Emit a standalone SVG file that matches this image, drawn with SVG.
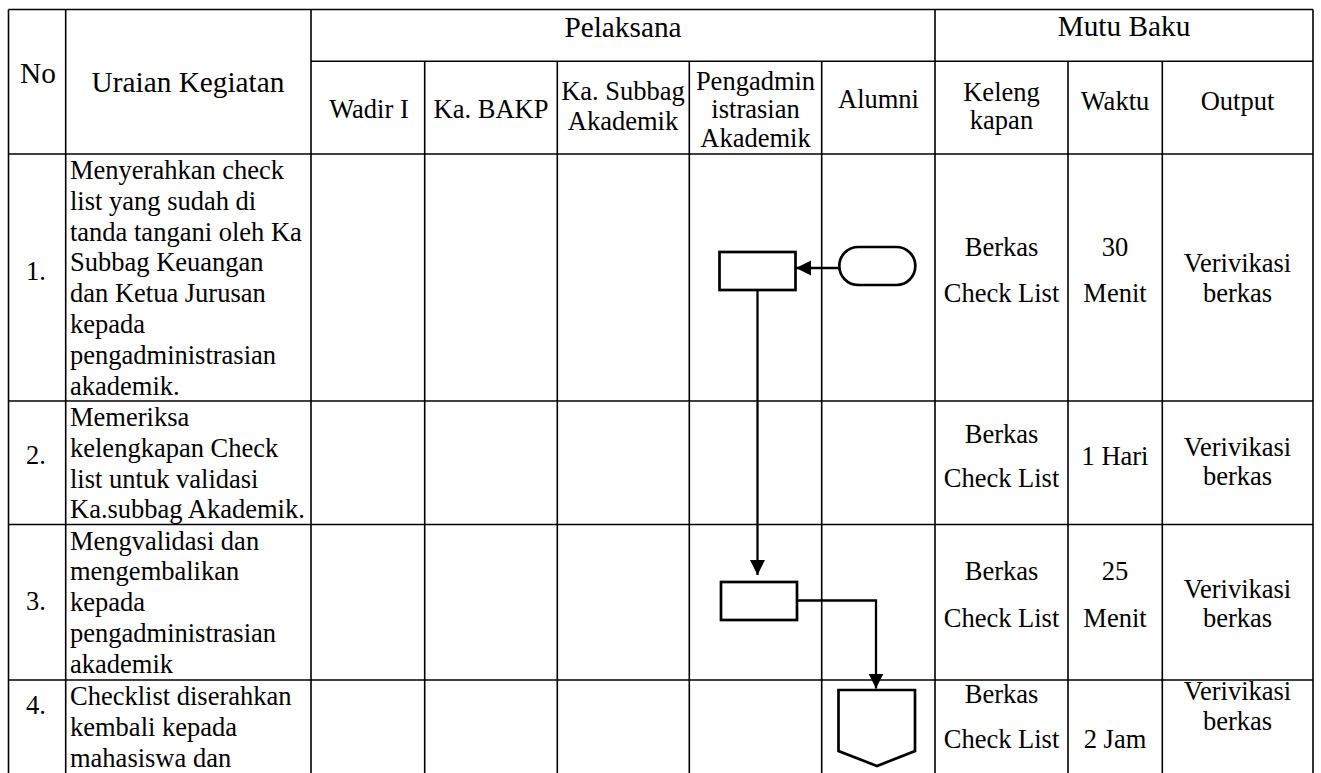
<svg xmlns="http://www.w3.org/2000/svg" width="1321" height="773" viewBox="0 0 1321 773">
<style>
text{font-family:"Liberation Serif","Tinos","Noto Serif","Times New Roman","Times","Nimbus Roman","FreeSerif","DejaVu Serif",serif;fill:#000}
.h{font-size:29.3px}
.t{font-size:26.5px}
.c{text-anchor:middle}
.grid line{stroke:#000;stroke-width:1.6}
.shape{fill:#fff;stroke:#000;stroke-width:2.7}
.conn{fill:none;stroke:#000;stroke-width:2.3}
</style>
<defs>
<marker id="arr" markerUnits="userSpaceOnUse" markerWidth="16" markerHeight="16" viewBox="0 0 16 16" refX="15" refY="8" orient="auto">
<path d="M0,0.5 L15,8 L0,15.5 z" fill="#000"/>
</marker>
</defs>
<rect width="1321" height="773" fill="#fff"/>
<g id="table" class="grid">
<line x1="8.5" y1="9.5" x2="1313" y2="9.5"/>
<line x1="311" y1="61.3" x2="1313" y2="61.3"/>
<line x1="8.5" y1="154" x2="1313" y2="154"/>
<line x1="8.5" y1="401" x2="1313" y2="401"/>
<line x1="8.5" y1="524.5" x2="1313" y2="524.5"/>
<line x1="8.5" y1="680" x2="1313" y2="680"/>
<line x1="8.5" y1="9.5" x2="8.5" y2="773"/>
<line x1="65.7" y1="9.5" x2="65.7" y2="773"/>
<line x1="311" y1="9.5" x2="311" y2="773"/>
<line x1="424.7" y1="61.3" x2="424.7" y2="773"/>
<line x1="557.3" y1="61.3" x2="557.3" y2="773"/>
<line x1="689.3" y1="61.3" x2="689.3" y2="773"/>
<line x1="821.7" y1="61.3" x2="821.7" y2="773"/>
<line x1="935" y1="9.5" x2="935" y2="773"/>
<line x1="1068" y1="61.3" x2="1068" y2="773"/>
<line x1="1162.3" y1="61.3" x2="1162.3" y2="773"/>
<line x1="1313" y1="9.5" x2="1313" y2="773"/>
</g>
<g id="header">
<text class="h c" x="38" y="83">No</text>
<text class="h c" x="188" y="92">Uraian Kegiatan</text>
<text class="h c" x="623" y="36.5">Pelaksana</text>
<text class="h c" x="1124" y="35.5">Mutu Baku</text>
<text class="t c" x="369" y="118.3">Wadir I</text>
<text class="t c" x="491" y="118.3">Ka. BAKP</text>
<text class="t c" x="623" y="100">Ka. Subbag</text>
<text class="t c" x="623" y="130">Akademik</text>
<text class="t c" x="755.5" y="89.5">Pengadmin</text>
<text class="t c" x="755.5" y="118.3">istrasian</text>
<text class="t c" x="755.5" y="147">Akademik</text>
<text class="t c" x="878.5" y="108.3">Alumni</text>
<text class="t c" x="1001.5" y="101">Keleng</text>
<text class="t c" x="1001.5" y="129">kapan</text>
<text class="t c" x="1115" y="110">Waktu</text>
<text class="t c" x="1237.5" y="110">Output</text>
</g>
<g id="row1">
<text class="t c" x="36" y="280">1.</text>
<text class="t" x="70" y="179">Menyerahkan check</text>
<text class="t" x="70" y="209.8">list yang sudah di</text>
<text class="t" x="70" y="240.6">tanda tangani oleh Ka</text>
<text class="t" x="70" y="271.4">Subbag Keuangan</text>
<text class="t" x="70" y="302.2">dan Ketua Jurusan</text>
<text class="t" x="70" y="333">kepada</text>
<text class="t" x="70" y="363.8">pengadministrasian</text>
<text class="t" x="70" y="394.6">akademik.</text>
<text class="t c" x="1001.5" y="256">Berkas</text>
<text class="t c" x="1001.5" y="302">Check List</text>
<text class="t c" x="1115" y="256">30</text>
<text class="t c" x="1115" y="302">Menit</text>
<text class="t c" x="1237.5" y="272">Verivikasi</text>
<text class="t c" x="1237.5" y="302">berkas</text>
</g>
<g id="row2">
<text class="t c" x="36" y="464">2.</text>
<text class="t" x="70" y="426">Memeriksa</text>
<text class="t" x="70" y="456.8">kelengkapan Check</text>
<text class="t" x="70" y="487.6">list untuk validasi</text>
<text class="t" x="70" y="518.4">Ka.subbag Akademik.</text>
<text class="t c" x="1001.5" y="443">Berkas</text>
<text class="t c" x="1001.5" y="487">Check List</text>
<text class="t c" x="1115" y="465">1 Hari</text>
<text class="t c" x="1237.5" y="456">Verivikasi</text>
<text class="t c" x="1237.5" y="485">berkas</text>
</g>
<g id="row3">
<text class="t c" x="36" y="610">3.</text>
<text class="t" x="70" y="549.5">Mengvalidasi dan</text>
<text class="t" x="70" y="580.3">mengembalikan</text>
<text class="t" x="70" y="611.1">kepada</text>
<text class="t" x="70" y="641.9">pengadministrasian</text>
<text class="t" x="70" y="672.7">akademik</text>
<text class="t c" x="1001.5" y="580">Berkas</text>
<text class="t c" x="1001.5" y="626.7">Check List</text>
<text class="t c" x="1115" y="580">25</text>
<text class="t c" x="1115" y="626.7">Menit</text>
<text class="t c" x="1237.5" y="598">Verivikasi</text>
<text class="t c" x="1237.5" y="626.7">berkas</text>
</g>
<g id="row4">
<text class="t c" x="36" y="714">4.</text>
<text class="t" x="70" y="705">Checklist diserahkan</text>
<text class="t" x="70" y="735.8">kembali kepada</text>
<text class="t" x="70" y="766.6">mahasiswa dan</text>
<text class="t c" x="1001.5" y="703">Berkas</text>
<text class="t c" x="1001.5" y="748">Check List</text>
<text class="t c" x="1115" y="748">2 Jam</text>
<text class="t c" x="1237.5" y="700">Verivikasi</text>
<text class="t c" x="1237.5" y="730">berkas</text>
</g>
<g id="connectors">
<path class="conn" d="M839,268 L796,268" marker-end="url(#arr)"/>
<path class="conn" d="M757.5,290 L757.5,575" marker-end="url(#arr)"/>
<path class="conn" d="M797,600.5 L876,600.5 L876,688.5" marker-end="url(#arr)"/>
</g>
<g id="start">
<rect class="shape" x="839.3" y="247" width="76" height="38" rx="19"/>
</g>
<g id="step1">
<rect class="shape" x="719.5" y="252" width="76" height="38"/>
</g>
<g id="step2">
<rect class="shape" x="721" y="582" width="76" height="38"/>
</g>
<g id="offpage">
<polygon class="shape" points="838.5,690 915,690 915,751 877,766 838.5,751"/>
</g>
</svg>
